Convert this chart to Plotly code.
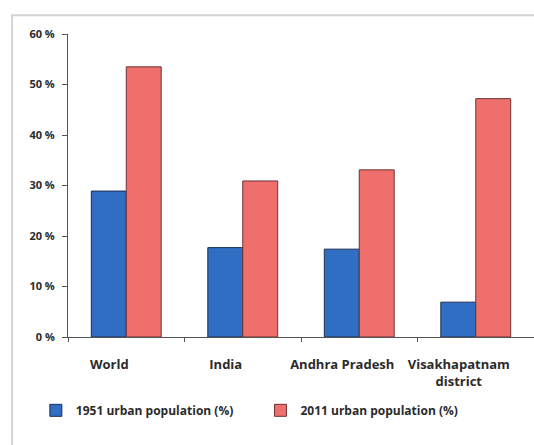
import plotly.graph_objects as go

categories = ["World", "India", "Andhra Pradesh", "Visakhapatnam<br>district"]
urban_1951 = [28.9, 17.7, 17.4, 6.9]
urban_2011 = [53.5, 30.9, 33.1, 47.2]
series_names = ["1951 urban population (%)", "2011 urban population (%)"]
y_ticks = [0, 10, 20, 30, 40, 50, 60]
y_tick_labels = ["0 %", "10 %", "20 %", "30 %", "40 %", "50 %", "60 %"]

font_family = "'Open Sans', sans-serif"
text_color = "#2b2b2b"

fig = go.Figure()
fig.add_trace(go.Bar(
    x=categories, y=urban_1951, name=series_names[0], legend="legend",
    marker=dict(color="#2F6EC2", line=dict(color="#1c2f55", width=1)),
))
fig.add_trace(go.Bar(
    x=categories, y=urban_2011, name=series_names[1], legend="legend2",
    marker=dict(color="#EF6F6C", line=dict(color="#6b3433", width=1)),
))

legend_font = dict(size=12, family=font_family, color=text_color, weight="bold")

fig.update_layout(
    width=534, height=445,
    margin=dict(l=68, r=0, t=34, b=108),
    paper_bgcolor="white", plot_bgcolor="white",
    barmode="group", bargap=0.4, bargroupgap=0,
    font=dict(family=font_family, color=text_color),
    showlegend=True,
    legend=dict(
        orientation="h", x=-0.069, xanchor="left", y=-0.242, yanchor="middle",
        font=legend_font, itemwidth=30,
    ),
    legend2=dict(
        orientation="h", x=0.413, xanchor="left", y=-0.242, yanchor="middle",
        font=legend_font, itemwidth=30,
    ),
    shapes=[dict(
        type="rect", xref="paper", yref="paper",
        x0=-0.120, x1=1.06, y0=-0.4, y1=1.062,
        line=dict(color="#d4d4d4", width=2), fillcolor="rgba(0,0,0,0)", layer="below",
    )],
)

fig.update_xaxes(
    showline=True, linecolor="#555555", linewidth=1,
    ticks="outside", tickson="boundaries", ticklen=4, tickcolor="#555555",
    tickfont=dict(size=13, family=font_family, color=text_color, weight="bold"),
    ticklabelshift=-17, ticklabelstandoff=15,
    showgrid=False,
)
fig.update_yaxes(
    range=[0, 60], tickvals=y_ticks, ticktext=y_tick_labels,
    showline=True, linecolor="#555555", linewidth=1,
    ticks="outside", ticklen=5, tickcolor="#555555",
    tickfont=dict(size=11, family=font_family, color=text_color, weight="bold"),
    ticklabelstandoff=5,
    showgrid=False, zeroline=False,
)

fig.write_html("out.html")
